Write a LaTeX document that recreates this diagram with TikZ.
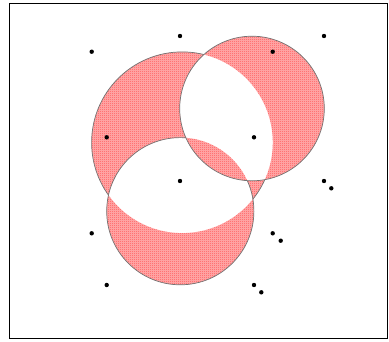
\documentclass[tikz,border=0pt]{standalone}
\usetikzlibrary{patterns.meta}

\tikzdeclarepattern{
  name=redchecks,
  type=uncolored,
  bottom left={(0pt,0pt)},
  top right={(2pt,2pt)},
  tile size={(2pt,2pt)},
  code={
    \fill (0pt,0pt) rectangle (1pt,1pt);
    \fill (1pt,1pt) rectangle (2pt,2pt);
  }
}

\tikzset{
  ring/.style={draw=black!55, line width=0.7pt},
  handle/.style={fill=black}
}

\begin{document}
\begin{tikzpicture}[x=1pt, y=-1pt]
  \useasboundingbox (0,0) rectangle (389,341);
  \draw[line width=1.3pt] (9.5,3.5) rectangle (387.5,338.5);
  % three circles, filled even-odd so overlaps of two come out white
  \fill[even odd rule, preaction={fill=red!30, even odd rule},
      pattern={redchecks}, pattern color=red!80]
    (182.2,142.5) circle[radius=90.6]
    (252,108.5) circle[radius=72.3]
    (180.3,211.2) circle[radius=73.6];
  \draw[ring] (252,108.5) circle[radius=72.3];
  \begin{scope}[even odd rule]
    \path[clip] (0,0) rectangle (389,341) (252,108.5) circle[radius=72.3];
    \draw[ring] (180.3,211.2) circle[radius=73.6];
    \path[clip] (0,0) rectangle (389,341) (180.3,211.2) circle[radius=73.6];
    \draw[ring] (182.2,142.5) circle[radius=90.6];
  \end{scope}
  % corner handles of the bounding boxes
  \foreach \px/\py in {91.7/51.7, 180/36, 324/36, 272.7/51.7, 106.7/137.3,
      254/137.3, 180/181, 324/181, 331.3/188.3, 91.7/233.3, 272.7/233.3,
      280.7/240.7, 106.7/285, 254/285, 261.3/292.3}
    \fill[handle] (\px,\py) circle[radius=2.2];
\end{tikzpicture}
\end{document}
